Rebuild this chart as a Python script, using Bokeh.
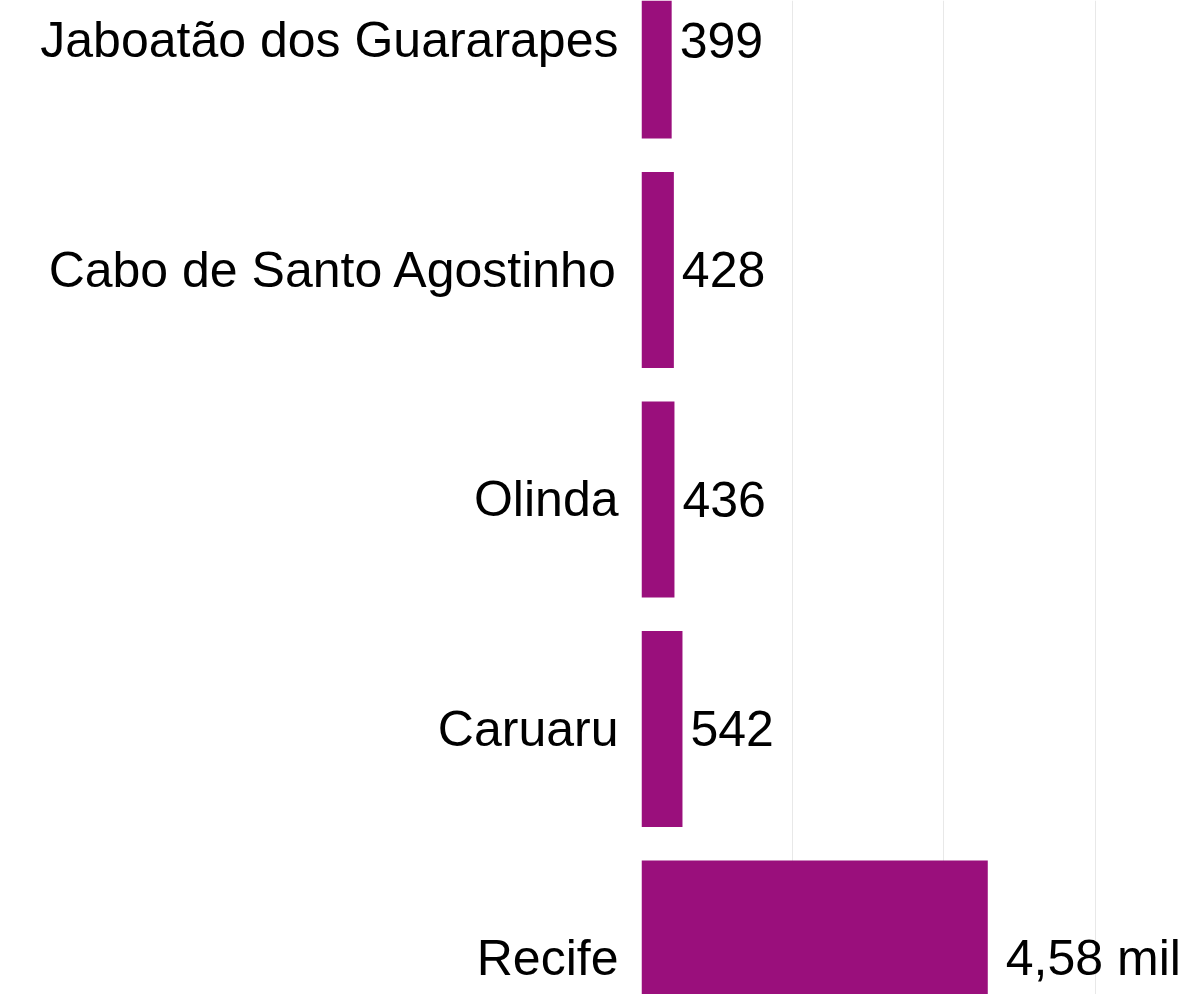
from bokeh.plotting import figure
from bokeh.models import ColumnDataSource, FixedTicker, Range1d
from bokeh.core.properties import value
from bokeh.embed import file_html
from bokeh.resources import INLINE

categories = ["Recife", "Caruaru", "Olinda", "Cabo de Santo Agostinho", "Jaboatão dos Guararapes"]
values = [4580, 542, 436, 428, 399]
value_labels = ["4,58 mil", "542", "436", "428", "399"]
grid_ticks = [0, 2000, 4000, 6000]

ys = list(range(len(categories)))
offsets = [18 if lab.endswith("mil") else 8 for lab in value_labels]
src = ColumnDataSource(dict(y=ys, v=values, lab=value_labels, off=offsets))

FONT = "Liberation Sans"
FSIZE = "50px"

p = figure(width=1188, height=994, output_backend="svg", toolbar_location=None,
           x_range=Range1d(0, 7235), y_range=Range1d(-0.157, 4.174),
           min_border_left=641, min_border_right=0, min_border_top=0, min_border_bottom=0)
p.outline_line_color = None
p.background_fill_color = "white"
p.border_fill_color = "white"

p.hbar(y="y", right="v", left=0, height=0.854, source=src,
       fill_color="#9A0F7C", line_color=None)
p.text(x="v", y="y", text="lab", x_offset="off", source=src,
       text_align="left", text_baseline="middle",
       text_font=value(FONT), text_font_size=FSIZE, text_color="black")

p.xaxis.visible = False
p.xaxis.ticker = FixedTicker(ticks=grid_ticks)
p.xgrid.ticker = FixedTicker(ticks=grid_ticks)
p.xgrid.grid_line_color = "#e8e8e8"
p.xgrid.grid_line_width = 1
p.ygrid.visible = False

yax = p.yaxis[0]
yax.ticker = FixedTicker(ticks=ys)
yax.major_label_overrides = {i: c for i, c in zip(ys, categories)}
yax.axis_line_color = None
yax.major_tick_line_color = None
yax.minor_tick_line_color = None
yax.major_tick_out = 0
yax.major_label_standoff = 23
yax.major_label_text_font = FONT
yax.major_label_text_font_size = FSIZE
yax.major_label_text_color = "black"

open("out.html", "w").write(file_html(p, INLINE))
